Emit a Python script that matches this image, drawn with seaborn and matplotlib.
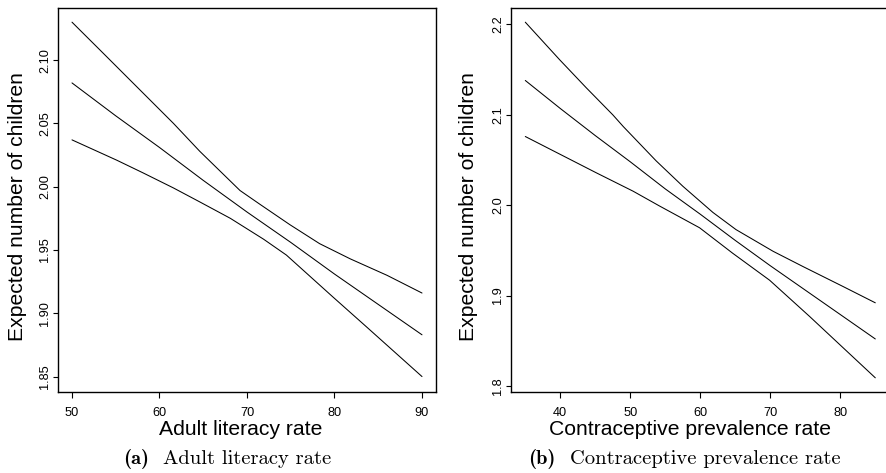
import matplotlib
matplotlib.use("Agg")
import matplotlib.pyplot as plt
import seaborn as sns
import pandas as pd

# ---- data ----
lit_x_mid = [50, 55, 60, 65, 70, 75, 80, 85, 90]
lit_mid = [2.082, 2.056, 2.031, 2.005, 1.980, 1.956, 1.931, 1.907, 1.883]
lit_x_up = [50, 53.2, 61.6, 64.6, 69.2, 71.5, 74.9, 78.3, 81.8, 86.0, 90]
lit_up = [2.130, 2.108, 2.050, 2.028, 1.997, 1.986, 1.970, 1.955, 1.943, 1.930, 1.916]
lit_x_lo = [50, 55.1, 58.1, 61.6, 64.6, 68.1, 71.9, 74.5, 79.8, 83.7, 90]
lit_lo = [2.037, 2.021, 2.011, 1.999, 1.988, 1.975, 1.9585, 1.946, 1.913, 1.889, 1.850]

cpr_x_mid = [35, 40, 45, 50, 55, 60, 65, 70, 75, 80, 85]
cpr_mid = [2.138, 2.107, 2.077, 2.048, 2.018, 1.990, 1.961, 1.933, 1.906, 1.879, 1.852]
cpr_x_up = [35, 39.9, 43.7, 47.5, 49.0, 53.7, 57.5, 61.8, 65.1, 70.4, 74.7, 80.4, 85]
cpr_up = [2.2025, 2.161, 2.130, 2.100, 2.087, 2.049, 2.021, 1.992, 1.973, 1.949, 1.932, 1.910, 1.892]
cpr_x_lo = [35, 45.1, 50.4, 54.2, 59.9, 64.6, 69.9, 75.6, 85]
cpr_lo = [2.076, 2.036, 2.0155, 1.999, 1.975, 1.947, 1.917, 1.877, 1.809]

lit_xticks = [50, 60, 70, 80, 90]
lit_yticks = [1.85, 1.90, 1.95, 2.00, 2.05, 2.10]
lit_yticklabels = ["1.85", "1.90", "1.95", "2.00", "2.05", "2.10"]
cpr_xticks = [40, 50, 60, 70, 80]
cpr_yticks = [1.8, 1.9, 2.0, 2.1, 2.2]
cpr_yticklabels = ["1.8", "1.9", "2.0", "2.1", "2.2"]

ylabel = "Expected number of children"
xlabels = ["Adult literacy rate", "Contraceptive prevalence rate"]
caption_tags = ["(a)", "(b)"]
caption_texts = ["Adult literacy rate", "Contraceptive prevalence rate"]

sns.set_style("white")
plt.rcParams["font.family"] = ["Liberation Sans", "DejaVu Sans"]
for key in ["text.color", "axes.labelcolor", "xtick.color", "ytick.color"]:
    plt.rcParams[key] = "black"

W, H = 886, 473
fig = plt.figure(figsize=(W / 100, H / 100), dpi=100)

def px_ax(l, t, r, b):
    return fig.add_axes([l / W, 1 - b / H, (r - l) / W, (b - t) / H])

ax1 = px_ax(58, 8, 436, 392)
ax2 = px_ax(511.3, 8, 889.3, 392)

panels = [
    (ax1, [(lit_x_up, lit_up), (lit_x_mid, lit_mid), (lit_x_lo, lit_lo)],
     lit_xticks, lit_yticks, lit_yticklabels, (48.4, 91.6), (1.8378, 2.1412)),
    (ax2, [(cpr_x_up, cpr_up), (cpr_x_mid, cpr_mid), (cpr_x_lo, cpr_lo)],
     cpr_xticks, cpr_yticks, cpr_yticklabels, (33, 87), (1.7933, 2.2182)),
]

for ax, curves, xt, yt, ytl, xl, yl in panels:
    for xs, ys in curves:
        df = pd.DataFrame({"x": xs, "y": ys})
        sns.lineplot(data=df, x="x", y="y", ax=ax, color="black", linewidth=0.75,
                     estimator=None, sort=True)
    ax.set_xlim(*xl)
    ax.set_ylim(*yl)
    ax.set_xticks(xt)
    ax.set_xticklabels([str(v) for v in xt])
    ax.set_yticks(yt)
    ax.set_yticklabels(ytl, rotation=90, va="center")
    ax.tick_params(axis="x", direction="out", length=4, width=0.8, pad=6.5,
                   labelsize=9.2, color="black", labelcolor="black", bottom=True)
    ax.tick_params(axis="y", direction="out", length=3.5, width=0.8, pad=1.5,
                   labelsize=9.2, color="black", labelcolor="black", left=True)
    for s in ax.spines.values():
        s.set_visible(True)
        s.set_color("black")
        s.set_linewidth(1.0)
    ax.set_xlabel("")
    ax.set_ylabel("")

# axis labels
fig.text(18 / W, 1 - 207 / H, ylabel, rotation=90, ha="center", va="center",
         fontsize=15.2, color="black")
fig.text(468 / W, 1 - 207 / H, ylabel, rotation=90, ha="center", va="center",
         fontsize=15.2, color="black")
fig.text(240.5 / W, 1 - 435 / H, xlabels[0], ha="center", va="baseline",
         fontsize=15.2, color="black")
fig.text(690 / W, 1 - 435 / H, xlabels[1], ha="center", va="baseline",
         fontsize=15.2, color="black")

# captions
for tx, cx, tag, txt in zip([123, 528], [163, 570], caption_tags, caption_texts):
    fig.text(tx / W, 1 - 464 / H, tag, ha="left", va="baseline",
             fontsize=14.8, family="cmb10", color="black")
    fig.text(cx / W, 1 - 464 / H, txt, ha="left", va="baseline",
             fontsize=14.8, family="cmr10", color="black")

fig.savefig("out.png", dpi=100)
